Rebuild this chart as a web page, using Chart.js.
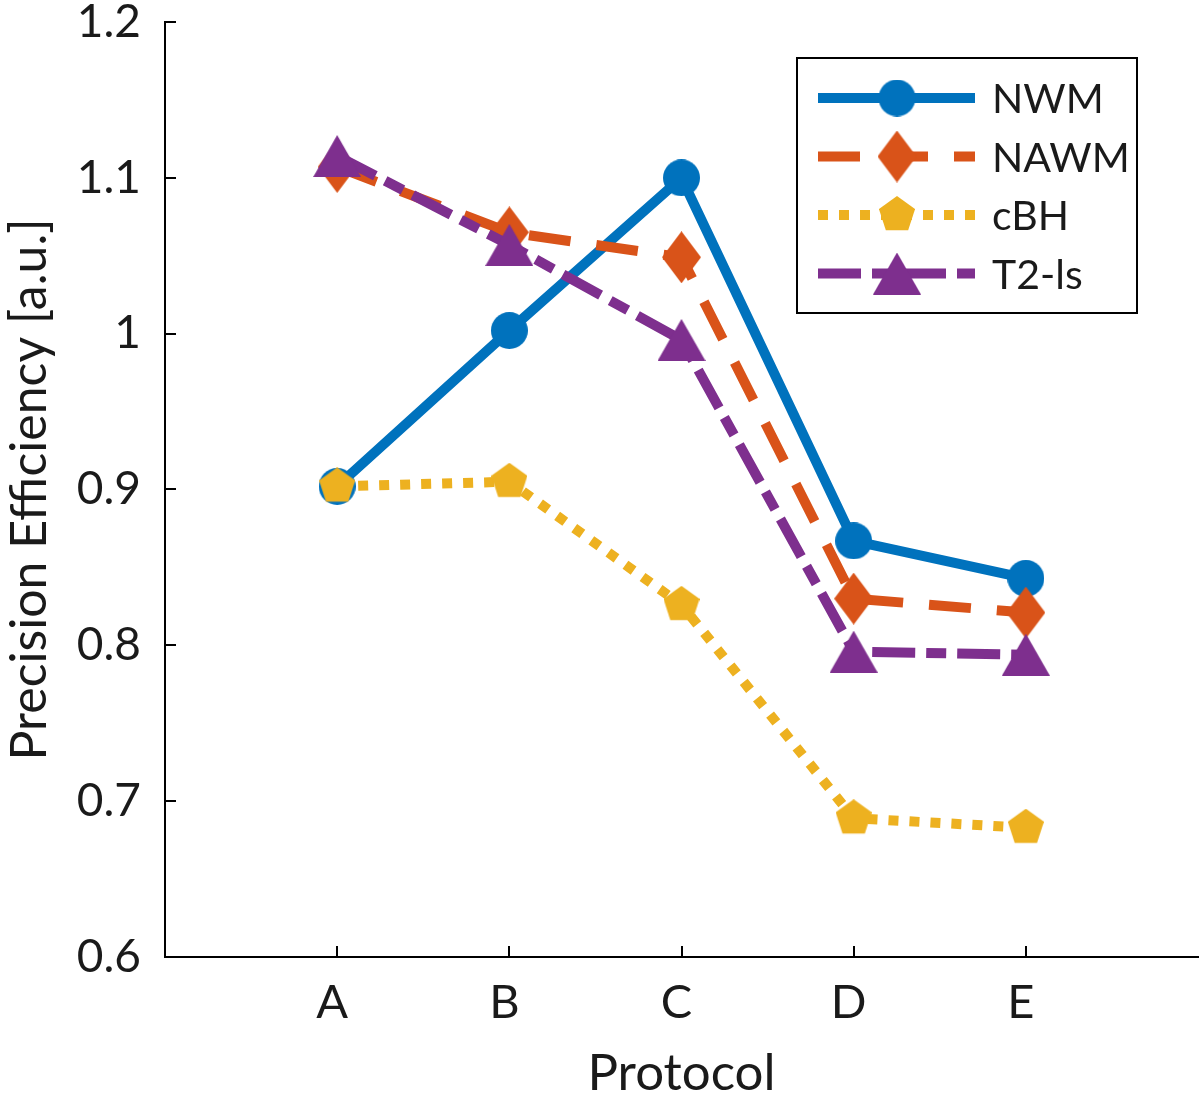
<!DOCTYPE html>
<html>
<head>
<meta charset="utf-8">
<script src="https://cdn.jsdelivr.net/npm/chart.js@4"></script>
<style>
  html, body { margin: 0; background: #fff; }
  #wrap { width: 1200px; height: 1099px; }
</style>
</head>
<body>
<div id="wrap"><canvas id="chart"></canvas></div>
<script>
// Precision efficiency per protocol, 4 tissue types
const PROTOCOLS = ['A', 'B', 'C', 'D', 'E'];
const NWM  = [0.902, 1.002, 1.100, 0.867, 0.843];
const NAWM = [1.107, 1.065, 1.049, 0.830, 0.821];
const CBH  = [0.902, 0.905, 0.826, 0.689, 0.683];
const T2LS = [1.114, 1.057, 0.996, 0.796, 0.794];
const Y_TICKS = [0.6, 0.7, 0.8, 0.9, 1, 1.1, 1.2];

const BLUE = '#0072BD', ORANGE = '#D95319', YELLOW = '#EDB120', PURPLE = '#7E2F8E';
const FONT = 'Lato';

function marker(shape, color, w, h) {
  const c = document.createElement('canvas');
  c.width = w; c.height = h;
  const g = c.getContext('2d');
  g.fillStyle = color;
  g.beginPath();
  if (shape === 'circle') {
    g.arc(w / 2, h / 2, w / 2, 0, Math.PI * 2);
  } else if (shape === 'diamond') {
    g.moveTo(w / 2, 0); g.lineTo(w, h / 2); g.lineTo(w / 2, h); g.lineTo(0, h / 2);
  } else if (shape === 'triangle') {
    g.moveTo(w / 2, 0); g.lineTo(w, h); g.lineTo(0, h);
  } else if (shape === 'pentagon') {
    // circumcentre at canvas centre, like matlab
    const r = h / 2;
    for (let k = 0; k < 5; k++) {
      const a = -Math.PI / 2 + k * 2 * Math.PI / 5;
      const px = w / 2 + r * Math.cos(a), py = h / 2 + r * Math.sin(a);
      k ? g.lineTo(px, py) : g.moveTo(px, py);
    }
  }
  g.closePath();
  g.fill();
  return c;
}

const pts = (arr) => arr.map((v, i) => ({ x: i + 1, y: v }));

function series(label, values, color, dash, style, order) {
  return {
    label, data: pts(values), order,
    borderColor: color, backgroundColor: color, borderWidth: 10,
    borderDash: dash, borderCapStyle: 'butt', borderJoinStyle: 'miter',
    pointStyle: style, pointRadius: 18, tension: 0, clip: false,
  };
}

// no extra room for overhanging tick labels, the plot box is fixed
const noPad = (s) => { s.paddingLeft = s.paddingRight = s.paddingTop = s.paddingBottom = 0; };

// ticks pointing into the plot, as in the original
const innerTicks = {
  id: 'innerTicks',
  beforeDatasetsDraw(chart) {
    const { ctx, scales: { x, y }, chartArea: a } = chart;
    ctx.save();
    ctx.strokeStyle = '#000';
    ctx.lineWidth = 2;
    ctx.beginPath();
    y.ticks.forEach((t) => {
      const py = Math.round(y.getPixelForValue(t.value));
      ctx.moveTo(a.left, py); ctx.lineTo(a.left + 11, py);
    });
    x.ticks.forEach((t) => {
      const px = Math.round(x.getPixelForValue(t.value));
      ctx.moveTo(px, a.bottom); ctx.lineTo(px, a.bottom - 11);
    });
    ctx.stroke();
    ctx.restore();
  },
};

// boxed legend with line samples + markers
const legendBox = {
  id: 'legendBox',
  afterDraw(chart) {
    const ctx = chart.ctx;
    const bx = 797, by = 58, bw = 340, bh = 255;
    ctx.save();
    ctx.fillStyle = '#fff';
    ctx.fillRect(bx, by, bw, bh);
    ctx.strokeStyle = '#000';
    ctx.lineWidth = 2;
    ctx.strokeRect(bx, by, bw, bh);
    chart.data.datasets.forEach((ds, i) => {
      const ry = 98 + i * 58.5;
      ctx.strokeStyle = ds.borderColor;
      ctx.lineWidth = ds.borderWidth;
      ctx.lineCap = 'butt';
      ctx.setLineDash(ds.borderDash);
      ctx.beginPath();
      ctx.moveTo(818, ry); ctx.lineTo(975, ry);
      ctx.stroke();
      const m = ds.pointStyle;
      ctx.drawImage(m, 897 - m.width / 2, ry - m.height / 2);
      ctx.fillStyle = '#1a1a1a';
      ctx.font = `41px ${FONT}`;
      ctx.textBaseline = 'middle';
      ctx.fillText(ds.label, 992, ry + 2);
    });
    ctx.restore();
  },
};

new Chart(document.getElementById('chart'), {
  type: 'line',
  data: {
    datasets: [
      series('NWM', NWM, BLUE, [], marker('circle', BLUE, 37, 37), 4),
      series('NAWM', NAWM, ORANGE, [42, 26], marker('diamond', ORANGE, 39, 52), 3),
      series('cBH', CBH, YELLOW, [10, 11], marker('pentagon', YELLOW, 36, 38), 2),
      series('T2-ls', T2LS, PURPLE, [43, 11, 20, 11], marker('triangle', PURPLE, 48, 42), 1),
    ],
  },
  options: {
    responsive: true,
    maintainAspectRatio: false,
    animation: false,
    events: [],
    // autoPadding would reserve room for the big markers; the plot box is fixed instead
    layout: { autoPadding: false, padding: { top: 22, right: 2, left: 0, bottom: 0 } },
    plugins: { legend: { display: false }, tooltip: { enabled: false } },
    scales: {
      x: {
        type: 'linear', min: 0, max: 6,
        afterBuildTicks: (s) => { s.ticks = PROTOCOLS.map((_, i) => ({ value: i + 1 })); },
        afterFit: (s) => { s.height = 142; noPad(s); },
        ticks: {
          callback: (v) => PROTOCOLS[v - 1] ?? '',
          color: '#1a1a1a', font: { family: FONT, size: 47 }, padding: 18, maxRotation: 0,
          labelOffset: -5,
        },
        grid: { drawOnChartArea: false, drawTicks: false },
        border: { color: '#000', width: 2 },
        title: {
          display: true, text: 'Protocol', color: '#1a1a1a',
          font: { family: FONT, size: 51, lineHeight: 1 }, padding: { top: 0, bottom: 0 },
        },
      },
      y: {
        min: 0.6, max: 1.2,
        afterBuildTicks: (s) => { s.ticks = Y_TICKS.map((v) => ({ value: v })); },
        afterFit: (s) => { s.width = 165; noPad(s); },
        ticks: {
          callback: (v) => String(Math.round(v * 10) / 10),
          color: '#1a1a1a', font: { family: FONT, size: 46 }, padding: 24,
        },
        grid: { drawOnChartArea: false, drawTicks: false },
        border: { color: '#000', width: 2 },
        title: {
          display: true, text: 'Precision Efficiency [a.u.]', color: '#1a1a1a',
          font: { family: FONT, size: 50, lineHeight: 1.2 }, padding: { top: 0, bottom: 0 },
        },
      },
    },
  },
  plugins: [innerTicks, legendBox],
});
</script>
</body>
</html>
